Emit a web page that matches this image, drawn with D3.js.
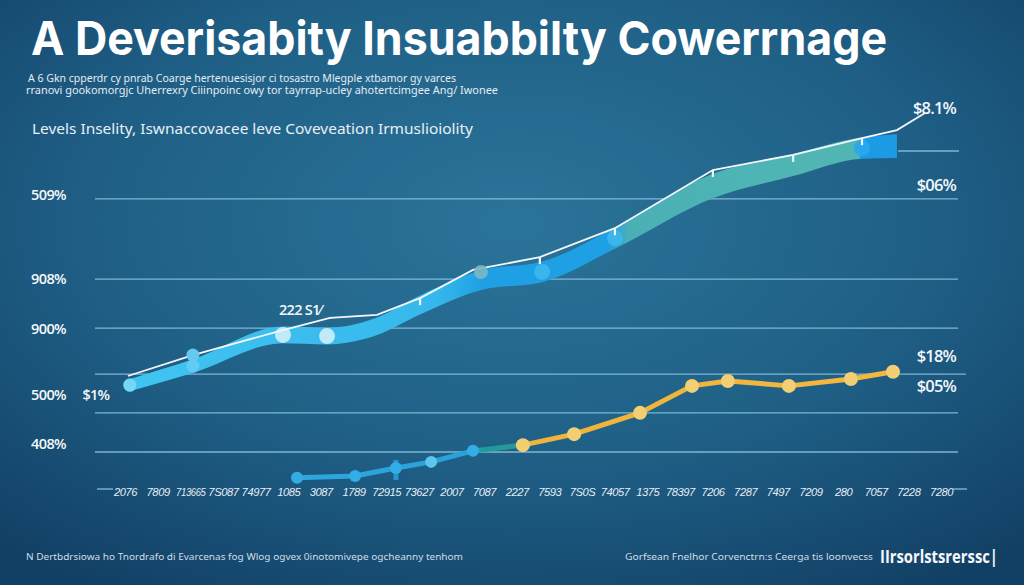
<!DOCTYPE html>
<html><head><meta charset="utf-8">
<script src="https://cdn.jsdelivr.net/npm/d3@7"></script>
<style>html,body{margin:0;padding:0;background:#1b5a80;} svg{display:block;}</style>
</head><body><svg id="c" width="1024" height="585"></svg>
<script>
// ---------- data ----------
const titleText = "A Deverisabity Insuabbilty Cowerrnage";
const subtitleLines = [
  "A 6 Gkn cpperdr cy pnrab Coarge hertenuesisjor ci tosastro Mlegple xtbamor gy varces",
  "rranovi gookomorgjc Uherrexry Ciiinpoinc owy tor tayrrap-ucley ahotertcimgee Ang/ Iwonee"
];
const legendText = "Levels Inselity, Iswnaccovacee leve Coveveation Irmuslioiolity";
const footLeft = "N Dertbdrsiowa ho Tnordrafo di Evarcenas fog Wlog ogvex 0inotomivepe ogcheanny tenhom";
const footRight = "Gorfsean Fnelhor Corvenctrn:s Ceerga tis loonvecss";
const footBrand = "IIrsorlstsrerssc|";

const xTickLabels = ["2076","7809","713665","7S087","74977","1085","3087","1789","72915","73627","2007","7087","2227",
  "7593","7S0S","74057","1375","78397","7206","7287","7497","7209","280","7057","7228","7280"];

const gridValues = [10.0, 20.3, 30.5, 42.6, 55.5, 76.6];
const rightGridValues = [89.2];
const yTickLabels = ["509%", "908%", "900%", "500%", "408%"];
const yTickValues = [77.6, 55.5, 42.4, 25.0, 12.1];

// thick band (coverage range)
const bandX    = [0.15, 2.08, 4.84, 6.19, 7.66, 9.04, 10.94, 12.78, 15.01, 18.01, 20.47, 22.58, 23.65];
const bandLow  = [26.0, 30.8, 38.6, 38.3, 40.6, 46.2, 52.7, 54.7, 63.5, 76.8, 82.6, 87.2, 87.4];
const bandHigh = [29.2, 34.4, 43.0, 42.7, 45.2, 51.2, 57.9, 60.1, 69.1, 83.2, 88.4, 92.8, 93.6];

// thin white trend line
const trendX = [0.09, 2.08, 4.84, 6.28, 7.72, 9.04, 10.66, 12.71, 15.01, 18.01, 20.47, 22.58, 23.65, 24.51];
const trendY = [30.0, 35.5, 42.1, 45.3, 46.1, 50.5, 57.9, 61.3, 68.9, 84.2, 88.2, 92.6, 94.7, 99.2];

// lower series
const lowerX = [5.27, 7.05, 8.30, 9.38, 10.66, 12.19, 13.76, 15.78, 17.37, 18.47, 20.34, 22.24, 23.53];
const lowerY = [3.2, 3.7, 5.8, 7.4, 10.3, 11.8, 14.7, 20.3, 27.4, 28.7, 27.4, 29.2, 31.1];

const rightLabels = ["$8.1%", "$06%", "$18%", "$05%"];
const rightLabelValues = [100.5, 80.3, 35.3, 27.4];
const notes = ["222 S1⁄", "$1%"];
const noteX = [5.36, -0.89];
const noteY = [47.4, 25.0];

// ---------- drawing ----------
const W = 1024, H = 585;
const svg = d3.select("#c");
const defs = svg.append("defs");

const bg = defs.append("radialGradient").attr("id","bg").attr("cx","50%").attr("cy","38%").attr("r","75%");
bg.append("stop").attr("offset","0%").attr("stop-color","#2b7499");
bg.append("stop").attr("offset","55%").attr("stop-color","#1f5f86");
bg.append("stop").attr("offset","100%").attr("stop-color","#123f64");
svg.append("rect").attr("width",W).attr("height",H).attr("fill","url(#bg)");

const x = d3.scaleLinear().domain([0, xTickLabels.length - 1]).range([125, 941]);
const y = d3.scaleLinear().domain([0, 100]).range([490, 110]);

// title
svg.append("text").attr("x",31).attr("y",55).attr("textLength",856).attr("lengthAdjust","spacingAndGlyphs")
  .attr("font-family","Inter, 'Open Sans', sans-serif").attr("font-weight",700).attr("font-size",47)
  .attr("fill","#ffffff").text(titleText);

svg.selectAll("text.sub").data(subtitleLines).join("text").attr("class","sub")
  .attr("x",(d,i)=> i===0 ? 28 : 26).attr("y",(d,i)=> 82 + i*12)
  .attr("textLength",(d,i)=> i===0 ? 428 : 472).attr("lengthAdjust","spacingAndGlyphs")
  .attr("font-family","'Noto Sans', sans-serif").attr("font-size",10.5).attr("fill","#e4ecf2").text(d=>d);

svg.append("text").attr("x",32).attr("y",134).attr("textLength",441).attr("lengthAdjust","spacingAndGlyphs")
  .attr("font-family","'Noto Sans', sans-serif").attr("font-size",15).attr("fill","#e8f0f5").text(legendText);

// grid
svg.append("g").selectAll("line").data(gridValues).join("line")
  .attr("x1",95).attr("x2",(d,i)=> i===2 ? 966 : 958)
  .attr("y1",d=>y(d)).attr("y2",d=>y(d))
  .attr("stroke","#8fc6e2").attr("stroke-opacity",0.85).attr("stroke-width",1.4);
svg.append("g").selectAll("line").data(rightGridValues).join("line")
  .attr("x1",898).attr("x2",959).attr("y1",d=>y(d)).attr("y2",d=>y(d))
  .attr("stroke","#8fc6e2").attr("stroke-opacity",0.85).attr("stroke-width",1.4);

// y labels
svg.append("g").selectAll("text").data(yTickLabels).join("text")
  .attr("x",31).attr("y",(d,i)=>y(yTickValues[i])).attr("dy","0.35em")
  .attr("font-family","'Open Sans', sans-serif").attr("font-weight",600).attr("font-size",14.5)
  .attr("letter-spacing",-0.6).attr("fill","#f4f8fb").text(d=>d);

// right labels
svg.append("g").selectAll("text").data(rightLabels).join("text")
  .attr("x",956).attr("text-anchor","end").attr("y",(d,i)=>y(rightLabelValues[i])).attr("dy","0.35em")
  .attr("font-family","'Open Sans', sans-serif").attr("font-weight",600).attr("font-size",16.5)
  .attr("letter-spacing",-0.8).attr("fill","#f4f8fb").text(d=>d);

// notes
svg.append("g").selectAll("text").data(notes).join("text")
  .attr("x",(d,i)=>x(noteX[i])).attr("text-anchor","middle").attr("y",(d,i)=>y(noteY[i])).attr("dy","0.35em")
  .attr("font-family","'Open Sans', sans-serif").attr("font-weight",600).attr("font-size",14.5)
  .attr("letter-spacing",-0.7).attr("fill","#f4f8fb").text(d=>d);

// x axis
const xPoint = d3.scalePoint().domain(xTickLabels).range(x.range());
const axis = svg.append("g").attr("transform","translate(0,486)")
  .call(d3.axisBottom(xPoint).tickSize(0).tickPadding(2));
axis.select(".domain").remove();
axis.selectAll("text").attr("font-family","'Liberation Sans', sans-serif").attr("font-size",11.2)
  .attr("font-style","italic").attr("letter-spacing",-0.45).attr("fill","#e6eef4")
  .each(function(d){ if (d.length > 5) d3.select(this).attr("textLength", d.length*4.9).attr("lengthAdjust","spacingAndGlyphs"); });
const [r0, r1] = x.range();
svg.append("g").selectAll("line").data([[r0-28, r0-12],[r1+12, r1+26]]).join("line")
  .attr("x1",d=>d[0]).attr("x2",d=>d[1]).attr("y1",489).attr("y2",489)
  .attr("stroke","#8fc6e2").attr("stroke-width",1.2);

// band
const bandGrad = defs.append("linearGradient").attr("id","bandG").attr("gradientUnits","userSpaceOnUse")
  .attr("x1",x(bandX[0])).attr("x2",x(bandX[bandX.length-1])).attr("y1",0).attr("y2",0);
[[0,"#40c4f0"],[0.40,"#36b8ec"],[0.46,"#1fa0e4"],[0.625,"#1fa0e4"],[0.65,"#4ab0b6"],[0.95,"#52b7b3"],[0.953,"#1c9be4"],[1,"#1c9be4"]]
  .forEach(s=>bandGrad.append("stop").attr("offset",s[0]).attr("stop-color",s[1]));
const bandData = bandX.map((v,i)=>({x:v, lo:bandLow[i], hi:bandHigh[i]}));
svg.append("path").datum(bandData)
  .attr("d", d3.area().x(d=>x(d.x)).y0(d=>y(d.lo)).y1(d=>y(d.hi)).curve(d3.curveMonotoneX))
  .attr("fill","url(#bandG)");
svg.append("circle").attr("cx",x(bandX[0])).attr("cy",y((bandLow[0]+bandHigh[0])/2)).attr("r",(y(bandLow[0])-y(bandHigh[0]))/2+0.5).attr("fill","#40c4f0");

// band markers
const bandMarkIdx = [0,1,2,3,7,8,11];
const bandMarkFill = ["#7ad6f4","#63ccf2","#c6ecf8","#c6ecf8","#3cb6ee","#3cb6ee","#2aa8ee"];
svg.append("g").selectAll("circle").data(bandMarkIdx).join("circle")
  .attr("cx",i=>x(bandX[i])).attr("cy",i=>y((bandLow[i]+bandHigh[i])/2))
  .attr("r",(i,k)=> k<2 ? 6.5 : 8).attr("fill",(i,k)=>bandMarkFill[k]).attr("fill-opacity",0.95);

// white trend line
const trendData = trendX.map((v,i)=>({x:v, y:trendY[i]}));
svg.append("path").datum(trendData)
  .attr("d", d3.line().x(d=>x(d.x)).y(d=>y(d.y)))
  .attr("fill","none").attr("stroke","#f3f7fa").attr("stroke-width",1.8);
svg.append("g").selectAll("line").data([5,7,8,9,10,11]).join("line")
  .attr("x1",i=>x(trendX[i])).attr("x2",i=>x(trendX[i]))
  .attr("y1",i=>y(trendY[i])).attr("y2",i=>y(trendY[i])+7)
  .attr("stroke","#f3f7fa").attr("stroke-width",2.2);
svg.append("circle").attr("cx",x(trendX[6])+8).attr("cy",y(trendY[6])+2).attr("r",7).attr("fill","#7ab7c2").attr("fill-opacity",0.9);
svg.append("circle").attr("cx",x(trendX[1])).attr("cy",y(trendY[1])).attr("r",6.5).attr("fill","#66c8ec");

// lower series
const lowGrad = defs.append("linearGradient").attr("id","lowG").attr("gradientUnits","userSpaceOnUse")
  .attr("x1",x(lowerX[0])).attr("x2",x(lowerX[lowerX.length-1])).attr("y1",0).attr("y2",0);
const lx = v => (x(v)-x(lowerX[0]))/(x(lowerX[lowerX.length-1])-x(lowerX[0]));
[[0,"#2ea6de"],[lx(lowerX[4]),"#2aa0d8"],[lx(lowerX[4])+0.02,"#1f9a9c"],[lx(lowerX[5])-0.01,"#2a9a90"],[lx(lowerX[5])+0.01,"#f0b33c"],[1,"#f2b83f"]]
  .forEach(s=>lowGrad.append("stop").attr("offset",s[0]).attr("stop-color",s[1]));
const lowerData = lowerX.map((v,i)=>({x:v, y:lowerY[i]}));
svg.append("path").datum(lowerData)
  .attr("d", d3.line().x(d=>x(d.x)).y(d=>y(d.y)))
  .attr("fill","none").attr("stroke","url(#lowG)").attr("stroke-width",5).attr("stroke-linejoin","round");
svg.append("rect").attr("x",x(lowerX[2])-2.5).attr("y",y(lowerY[2])-8).attr("width",5).attr("height",20).attr("fill","#2796d0");
svg.append("g").selectAll("circle").data(lowerData).join("circle")
  .attr("cx",d=>x(d.x)).attr("cy",d=>y(d.y))
  .attr("r",(d,i)=> i<5 ? 6 : 7)
  .attr("fill",(d,i)=> i<5 ? (i===3 ? "#5cc6ee" : "#33ade6") : "#f3cf74");

// footer
svg.append("text").attr("x",26).attr("y",560).attr("textLength",437).attr("lengthAdjust","spacingAndGlyphs")
  .attr("font-family","'Noto Sans', sans-serif").attr("font-size",9.5).attr("fill","#cfdde8").text(footLeft);
svg.append("text").attr("x",625).attr("y",560).attr("textLength",248).attr("lengthAdjust","spacingAndGlyphs")
  .attr("font-family","'Noto Sans', sans-serif").attr("font-size",9.5).attr("fill","#cfdde8").text(footRight);
svg.append("text").attr("x",880).attr("y",563).attr("textLength",118).attr("lengthAdjust","spacingAndGlyphs")
  .attr("font-family","'Open Sans', sans-serif").attr("font-weight",700).attr("font-size",17).attr("fill","#f4f8fb").text(footBrand);
</script></body></html>
